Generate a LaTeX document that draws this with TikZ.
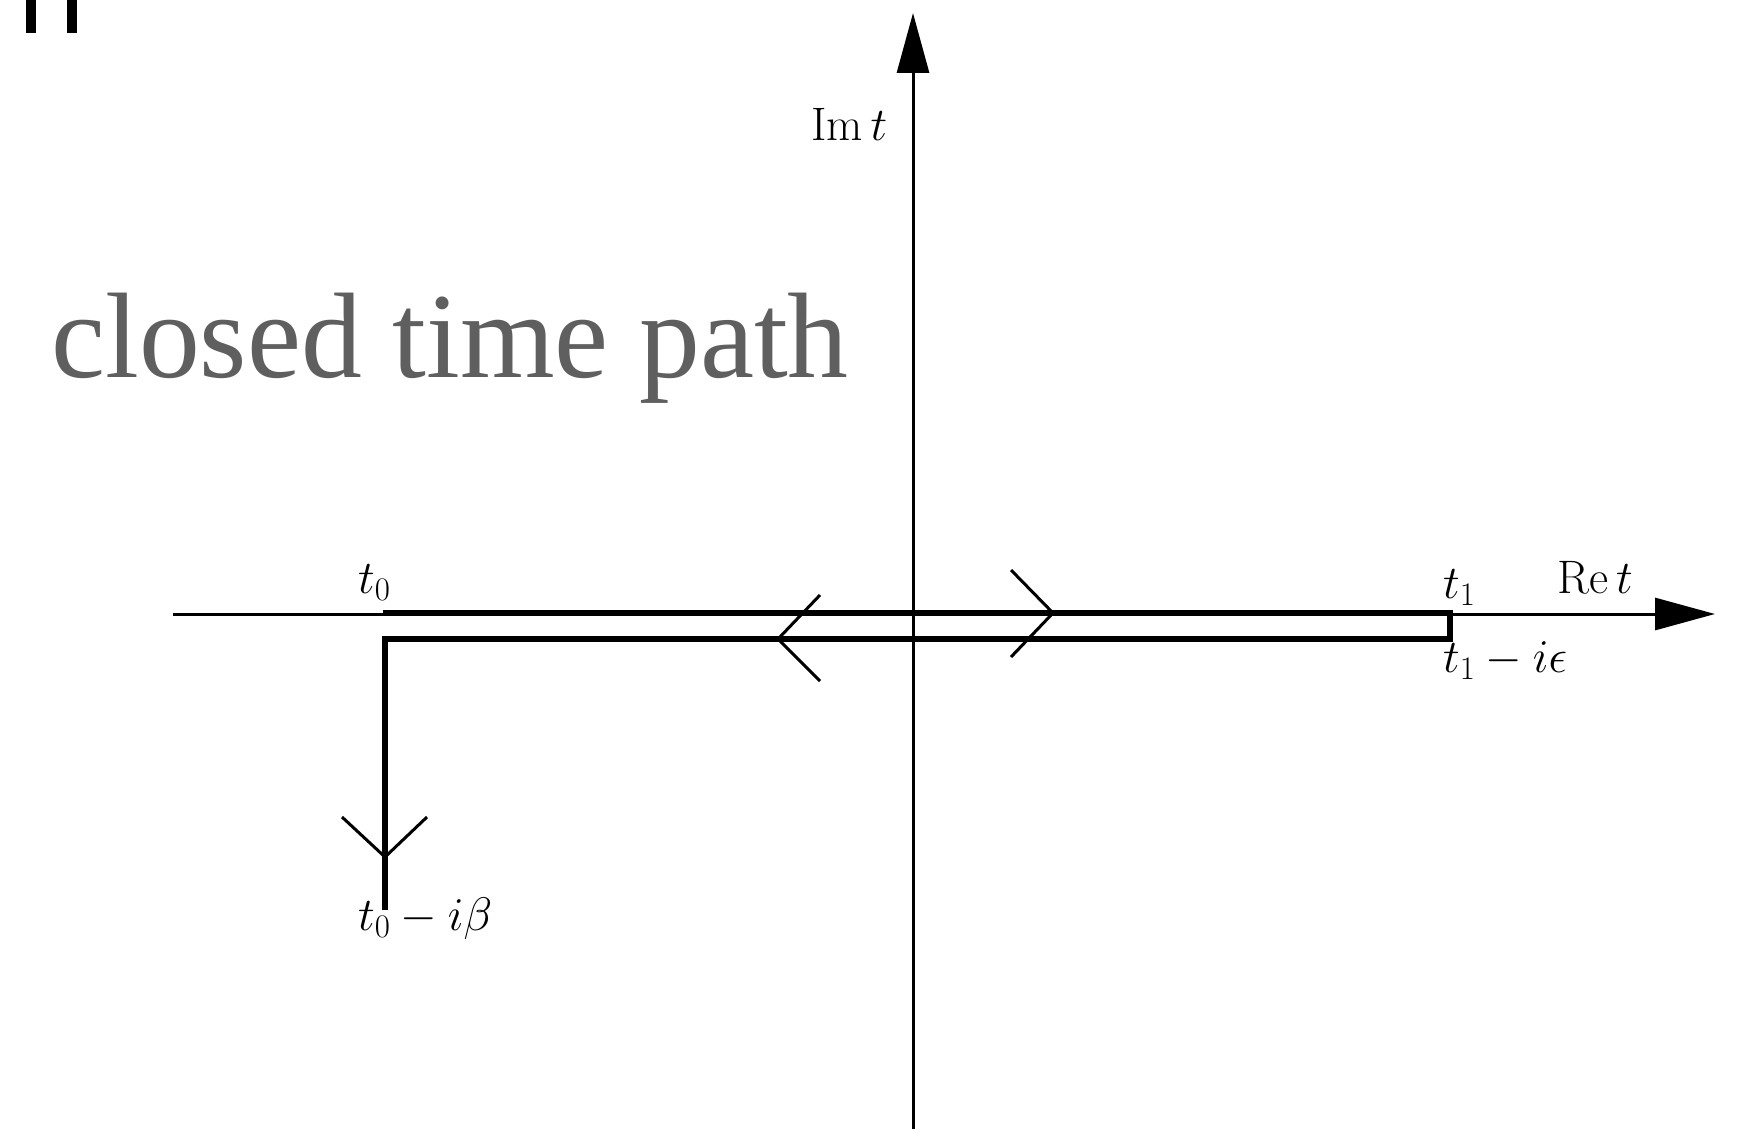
\RequirePackage{fix-cm}
\documentclass[tikz,border=0pt]{standalone}
\usepackage{fontspec}
\newfontfamily\titlefont{Liberation Serif}
\usetikzlibrary{arrows.meta}
\definecolor{titlegray}{RGB}{95,95,95}
\tikzset{
  axis/.style={line width=3pt,-{Triangle[length=60pt,width=32pt]}},
  contour/.style={line width=6pt,line join=miter},
  chev/.style={line width=3pt},
  lab/.style={inner sep=0pt,anchor=base west,font=\fontsize{47}{56}\selectfont},
}
\begin{document}
\begin{tikzpicture}[x=1pt,y=-1pt]
\useasboundingbox (0,0) rectangle (1747,1129);
% cut-off glyph at top-left
\fill (26,0) rectangle (36,33);
\fill (67,0) rectangle (77,33);
% axes
\coordinate (xl) at (173,614);
\coordinate (xr) at (1715,614);
\coordinate (yb) at (913,1129);
\coordinate (yt) at (913,13);
\draw[axis] (xl) -- (xr);
\draw[axis] (yb) -- (yt);
% contour
\coordinate (a) at (383,613);
\coordinate (b) at (1450,613);
\coordinate (c) at (1450,639);
\coordinate (d) at (385,639);
\coordinate (e) at (385,910);
\draw[contour] (a) -- (b) -- (c) -- (d) -- (e);
% chevrons
\coordinate (r1) at (1011,570);
\coordinate (rt) at (1053,613);
\coordinate (r2) at (1011,657);
\draw[chev] (r1) -- (rt) -- (r2);
\coordinate (l1) at (820,595);
\coordinate (lt) at (778,639);
\coordinate (l2) at (820,681);
\draw[chev] (l1) -- (lt) -- (l2);
\coordinate (d1) at (342,817);
\coordinate (dt) at (385,857);
\coordinate (d2) at (427,817);
\draw[chev] (d1) -- (dt) -- (d2);
% labels
\node[lab] (imt) at (811,140) {$\mathrm{Im}\,t$};
\node[lab] (ret) at (1557,593) {$\mathrm{Re}\,t$};
\node[lab] (tz) at (358,593) {$t_0$};
\node[lab] (to) at (1443,598) {$t_1$};
\node[lab] (toe) at (1443,672) {$t_1-i\epsilon$};
\node[lab] (tzb) at (358,930) {$t_0-i\beta$};
% title
\node[inner sep=0pt,anchor=base west,text=titlegray] (title) at (51,377)
  {\resizebox{797pt}{!}{\titlefont closed time path}};
\end{tikzpicture}
\end{document}
